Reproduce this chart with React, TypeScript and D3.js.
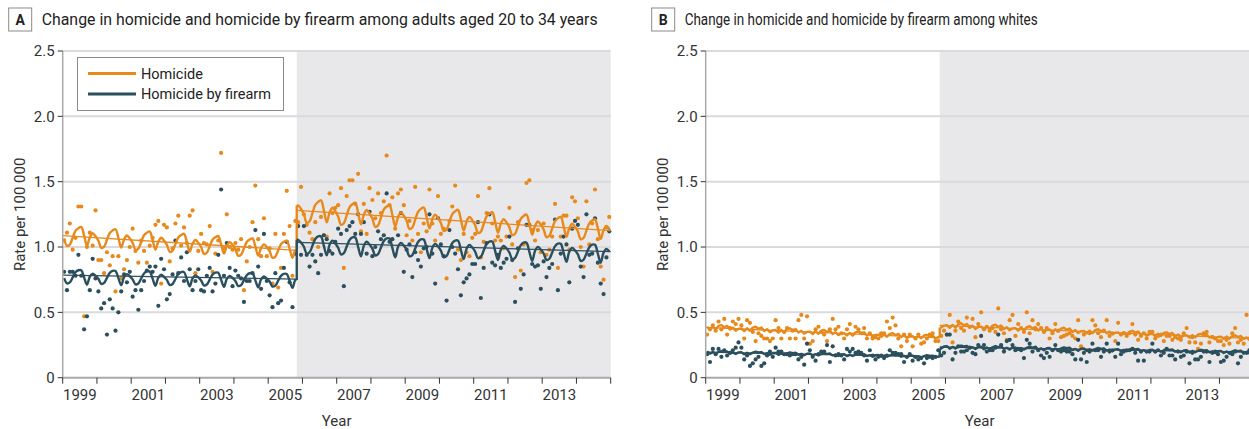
import * as d3 from 'd3';

const startYear = 1999;
const endYear = 2015;
const lawDate = 2005 + 10 / 12;
const yTicks = [0, 0.5, 1.0, 1.5, 2.0, 2.5];
const yTickLabels = ['0', '0.5', '1.0', '1.5', '2.0', '2.5'];
const yearTicks = d3.range(startYear, endYear + 1);
const yearLabels = [1999, 2001, 2003, 2005, 2007, 2009, 2011, 2013];
const seriesNames = ['Homicide', 'Homicide by firearm'];

// monthly rates, Jan 1999 .. Dec 2014
const homicideA = [
  1.05, 1.11, 1.18, 0.98, 1.07, 1.31, 1.31, 0.47, 1.0, 1.11, 1.01, 1.28,
  0.9, 0.9, 0.8, 0.96, 0.86, 0.93, 0.66, 0.93, 0.76, 0.83, 0.9, 1.0,
  1.14, 0.97, 0.88, 1.05, 0.97, 0.88, 1.01, 1.07, 1.17, 1.2, 0.72, 1.17,
  1.15, 0.89, 0.99, 1.18, 1.24, 1.01, 1.15, 1.03, 1.24, 1.28, 0.8, 0.97,
  1.1, 1.03, 1.02, 1.16, 0.81, 0.95, 1.05, 1.72, 0.99, 1.25, 1.0, 0.98,
  1.03, 0.98, 1.06, 0.67, 0.89, 1.0, 1.19, 1.47, 1.06, 0.93, 1.22, 0.93,
  0.99, 0.72, 1.1, 0.69, 0.84, 1.1, 1.43, 1.16, 0.78, 1.2, 1.19, 1.46,
  1.25, 1.17, 1.11, 1.06, 1.19, 1.0, 1.23, 1.09, 1.08, 1.41, 1.26, 1.3,
  1.32, 1.45, 0.84, 1.39, 1.51, 1.51, 1.33, 1.56, 1.12, 1.33, 1.1, 1.45,
  1.36, 1.22, 1.41, 1.26, 1.35, 1.7, 1.32, 1.38, 1.14, 1.41, 1.44, 1.32,
  1.09, 1.2, 1.05, 1.46, 1.1, 0.96, 1.18, 1.12, 1.44, 1.18, 1.05, 1.39,
  1.1, 1.14, 0.76, 1.2, 1.31, 1.47, 0.98, 0.9, 1.1, 0.96, 0.93, 1.07,
  1.1, 1.39, 0.92, 1.04, 1.26, 1.45, 1.18, 1.05, 1.08, 1.05, 0.99, 1.08,
  1.3, 1.02, 0.77, 1.19, 0.82, 1.02, 1.49, 1.51, 1.13, 1.05, 1.13, 0.96,
  1.18, 0.94, 0.98, 1.08, 1.33, 0.84, 1.08, 1.24, 1.24, 0.98, 1.38, 1.35,
  1.22, 1.0, 0.85, 1.35, 1.02, 1.18, 1.44, 1.06, 0.85, 0.75, 1.15, 1.23,
];
const firearmA = [
  0.81, 0.67, 0.81, 0.81, 0.78, 0.94, 0.78, 0.37, 0.47, 0.67, 0.91, 0.76,
  0.66, 0.53, 0.57, 0.33, 0.6, 0.53, 0.36, 0.5, 0.66, 0.79, 0.73, 0.81,
  0.62, 0.67, 0.52, 0.67, 0.74, 0.82, 0.85, 0.81, 0.85, 0.55, 0.91, 0.83,
  0.6, 0.64, 0.79, 1.05, 0.8, 0.92, 0.74, 0.96, 0.83, 0.67, 0.74, 0.83,
  0.67, 0.66, 0.78, 0.84, 0.66, 0.72, 0.94, 1.44, 0.78, 1.03, 0.84, 0.7,
  0.82, 0.78, 0.76, 0.58, 0.74, 0.74, 0.8, 1.13, 0.85, 0.68, 1.1, 0.74,
  0.63, 0.54, 0.8, 0.57, 0.59, 0.84, 1.04, 0.73, 0.54, 0.95, 1.16, 0.94,
  1.16, 0.94, 0.85, 0.94, 0.89, 0.8, 0.94, 1.09, 1.06, 0.97, 0.95, 1.04,
  1.14, 1.1, 0.7, 1.13, 1.16, 1.19, 1.1, 1.25, 1.1, 1.19, 0.95, 1.27,
  0.93, 1.0, 1.12, 1.06, 1.09, 1.41, 1.04, 1.06, 0.94, 1.09, 1.26, 0.81,
  0.98, 1.02, 0.77, 0.96, 0.9, 0.85, 0.99, 1.0, 1.25, 0.95, 0.72, 1.22,
  1.02, 0.93, 0.59, 1.13, 1.0, 0.95, 0.83, 0.63, 0.73, 0.76, 0.79, 0.87,
  0.87, 1.19, 0.61, 0.84, 1.03, 1.25, 0.88, 0.86, 0.94, 0.84, 0.88, 0.91,
  1.08, 0.9, 0.58, 0.99, 0.68, 0.79, 1.17, 1.17, 0.87, 0.85, 0.86, 0.68,
  0.89, 0.77, 0.84, 0.87, 1.21, 0.67, 0.95, 1.08, 1.02, 0.73, 1.14, 1.2,
  1.17, 0.85, 0.77, 1.25, 0.94, 0.95, 1.22, 0.88, 0.72, 0.64, 0.92, 1.12,
];
const homicideB = [
  0.33, 0.37, 0.4, 0.36, 0.43, 0.37, 0.45, 0.33, 0.38, 0.43, 0.41, 0.45,
  0.4, 0.3, 0.44, 0.42, 0.35, 0.28, 0.34, 0.32, 0.3, 0.3, 0.28, 0.3,
  0.44, 0.38, 0.3, 0.35, 0.38, 0.3, 0.36, 0.3, 0.44, 0.48, 0.3, 0.47,
  0.26, 0.28, 0.37, 0.39, 0.35, 0.33, 0.28, 0.37, 0.45, 0.37, 0.39, 0.34,
  0.3, 0.37, 0.41, 0.33, 0.39, 0.37, 0.34, 0.38, 0.3, 0.34, 0.3, 0.31,
  0.3, 0.34, 0.34, 0.43, 0.38, 0.46, 0.4, 0.3, 0.24, 0.33, 0.28, 0.33,
  0.24, 0.3, 0.33, 0.26, 0.27, 0.3, 0.33, 0.34, 0.28, 0.28, 0.32, 0.36,
  0.33, 0.48, 0.27, 0.36, 0.43, 0.38, 0.36, 0.46, 0.39, 0.45, 0.31, 0.41,
  0.5, 0.37, 0.39, 0.36, 0.38, 0.35, 0.53, 0.37, 0.34, 0.29, 0.44, 0.48,
  0.32, 0.41, 0.38, 0.35, 0.5, 0.34, 0.44, 0.37, 0.41, 0.38, 0.35, 0.38,
  0.3, 0.34, 0.41, 0.36, 0.31, 0.32, 0.33, 0.34, 0.32, 0.3, 0.44, 0.24,
  0.33, 0.21, 0.34, 0.44, 0.4, 0.34, 0.31, 0.36, 0.44, 0.32, 0.34, 0.28,
  0.42, 0.33, 0.34, 0.32, 0.34, 0.41, 0.33, 0.29, 0.32, 0.34, 0.3, 0.35,
  0.35, 0.3, 0.32, 0.33, 0.28, 0.32, 0.32, 0.29, 0.31, 0.3, 0.29, 0.34,
  0.38, 0.27, 0.31, 0.27, 0.22, 0.26, 0.34, 0.35, 0.27, 0.31, 0.3, 0.28,
  0.28, 0.25, 0.29, 0.26, 0.34, 0.38, 0.27, 0.29, 0.26, 0.48, 0.3, 0.28,
];
const firearmB = [
  0.18, 0.12, 0.22, 0.18, 0.22, 0.16, 0.21, 0.17, 0.19, 0.21, 0.23, 0.27,
  0.23, 0.14, 0.17, 0.09, 0.11, 0.14, 0.16, 0.09, 0.11, 0.17, 0.2, 0.16,
  0.23, 0.2, 0.2, 0.18, 0.18, 0.17, 0.18, 0.18, 0.14, 0.16, 0.1, 0.26,
  0.21, 0.16, 0.13, 0.18, 0.2, 0.2, 0.25, 0.12, 0.24, 0.17, 0.18, 0.17,
  0.14, 0.22, 0.2, 0.22, 0.19, 0.2, 0.19, 0.17, 0.13, 0.21, 0.17, 0.14,
  0.16, 0.17, 0.15, 0.17, 0.21, 0.19, 0.19, 0.18, 0.18, 0.12, 0.16, 0.18,
  0.13, 0.16, 0.14, 0.15, 0.11, 0.15, 0.16, 0.15, 0.16, 0.21, 0.17, 0.19,
  0.33, 0.33, 0.14, 0.19, 0.24, 0.2, 0.2, 0.21, 0.23, 0.19, 0.18, 0.25,
  0.32, 0.25, 0.2, 0.21, 0.21, 0.23, 0.33, 0.25, 0.2, 0.28, 0.29, 0.25,
  0.21, 0.22, 0.21, 0.15, 0.29, 0.26, 0.2, 0.23, 0.21, 0.17, 0.15, 0.19,
  0.16, 0.21, 0.25, 0.21, 0.2, 0.21, 0.2, 0.2, 0.18, 0.14, 0.29, 0.14,
  0.19, 0.12, 0.2, 0.26, 0.21, 0.21, 0.16, 0.2, 0.26, 0.2, 0.21, 0.16,
  0.26, 0.18, 0.2, 0.21, 0.21, 0.22, 0.19, 0.13, 0.2, 0.13, 0.2, 0.2,
  0.26, 0.2, 0.21, 0.17, 0.19, 0.22, 0.17, 0.17, 0.14, 0.2, 0.16, 0.17,
  0.2, 0.11, 0.19, 0.14, 0.14, 0.16, 0.2, 0.2, 0.12, 0.19, 0.2, 0.18,
  0.12, 0.13, 0.16, 0.19, 0.18, 0.2, 0.11, 0.16, 0.19, 0.19, 0.21, 0.2,
];

// fitted segmented trend: [pre start, pre end, post start, post end]
const homicideTrendA = [1.087, 0.975, 1.28, 1.125];
const firearmTrendA = [0.785, 0.755, 1.035, 0.965];
const homicideTrendB = [0.385, 0.305, 0.4, 0.3];
const firearmTrendB = [0.195, 0.16, 0.235, 0.195];

// fitted seasonal effect by calendar month (relative), Jan..Dec
const homicideSeasonA = [-0.02, -0.07, -0.06, -0.01, 0.04, 0.06, 0.07, 0.01, -0.06, 0.0, 0.03, 0.01];
const firearmSeasonA = [-0.03, -0.08, -0.07, -0.02, 0.03, 0.05, 0.05, -0.02, -0.09, -0.01, 0.02, 0.0];
const homicideSeasonB = [0.01, -0.04, 0.02, -0.03, 0.04, 0.06, 0.02, 0.05, -0.02, 0.02, -0.04, 0.0];
const firearmSeasonB = [0.03, -0.05, 0.01, -0.04, 0.02, 0.06, 0.03, 0.05, -0.03, 0.01, -0.05, 0.02];

const ORANGE = '#e8891c';
const TEAL = '#2b4f5d';
const FONT = "Roboto, 'Liberation Sans', Arial, sans-serif";
const plotTop = 51;
const plotBottom = 377.7;
const plotWidth = 548;

type PanelProps = {
  left: number;
  letter: string;
  title: string;
  titleWidth: number;
  homicide: number[];
  firearm: number[];
  homicideTrend: number[];
  firearmTrend: number[];
  homicideSeason: number[];
  firearmSeason: number[];
  smooth: boolean;
  legend: boolean;
};

function Panel(p: PanelProps) {
  const x = d3.scaleLinear().domain([startYear, endYear]).range([p.left, p.left + plotWidth]);
  const y = d3.scaleLinear().domain([0, 2.5]).range([plotBottom, plotTop]);
  const monthDate = (i: number) => startYear + (i + 0.5) / 12;

  const line = d3.line<[number, number]>()
    .x(d => x(d[0]))
    .y(d => y(d[1]))
    .curve(p.smooth ? d3.curveCatmullRom : d3.curveLinear);
  const straight = d3.line<[number, number]>().x(d => x(d[0])).y(d => y(d[1]));

  const fitted = (vals: number[], trend: number[], season: number[], color: string) => {
    const pre = d3.scaleLinear().domain([startYear, lawDate]).range([trend[0], trend[1]]);
    const post = d3.scaleLinear().domain([lawDate, endYear]).range([trend[2], trend[3]]);
    const prePts: [number, number][] = [];
    const postPts: [number, number][] = [];
    vals.forEach((_, i) => {
      const t = monthDate(i);
      const s = 1 + season[i % 12];
      if (t < lawDate) prePts.push([t, pre(t) * s]);
      else postPts.push([t, post(t) * s]);
    });
    const lastPre = prePts[prePts.length - 1][1];
    const firstPost = postPts[0][1];
    prePts.push([lawDate, lastPre]);
    postPts.unshift([lawDate, firstPost]);
    return (
      <g fill="none" stroke={color}>
        <path d={straight([[startYear, trend[0]], [lawDate, trend[1]]]) || ''} strokeWidth={1.3} />
        <path d={straight([[lawDate, trend[2]], [endYear, trend[3]]]) || ''} strokeWidth={1.3} />
        <path d={line(prePts) || ''} strokeWidth={2.4} strokeLinejoin="round" />
        <path d={line(postPts) || ''} strokeWidth={2.4} strokeLinejoin="round" />
        <path d={straight([[lawDate, lastPre], [lawDate, firstPost]]) || ''} strokeWidth={2.4} />
      </g>
    );
  };

  const axisColor = '#a9a9a9';
  const textColor = '#333';

  return (
    <g fontFamily={FONT}>
      <rect x={p.left - 54} y={8} width={23} height={23} fill="#fff" stroke="#8a8a8a" strokeWidth={1} />
      <text x={p.left - 42.5} y={25} textAnchor="middle" fontSize={14} fontWeight="bold" fill="#222">{p.letter}</text>
      <text x={p.left - 21} y={25} fontSize={16.5} fill="#222" textLength={p.titleWidth} lengthAdjust="spacingAndGlyphs">{p.title}</text>

      <rect x={x(lawDate)} y={plotTop} width={x(endYear) - x(lawDate)} height={plotBottom - plotTop} fill="#e8e8eb" />
      {yTicks.filter(t => t > 0).map(t => (
        <line key={t} x1={x(startYear)} x2={x(endYear)} y1={y(t)} y2={y(t)} stroke="#dadadc" strokeWidth={2} />
      ))}

      {p.homicide.map((v, i) => (
        <circle key={'h' + i} cx={x(monthDate(i))} cy={y(v)} r={2.1} fill={ORANGE} />
      ))}
      {p.firearm.map((v, i) => (
        <circle key={'f' + i} cx={x(monthDate(i))} cy={y(v)} r={2.1} fill={TEAL} />
      ))}

      {fitted(p.homicide, p.homicideTrend, p.homicideSeason, ORANGE)}
      {fitted(p.firearm, p.firearmTrend, p.firearmSeason, TEAL)}

      <line x1={x(startYear)} x2={x(startYear)} y1={plotTop} y2={plotBottom} stroke={axisColor} strokeWidth={1.5} />
      <line x1={x(startYear)} x2={x(endYear)} y1={plotBottom} y2={plotBottom} stroke={axisColor} strokeWidth={2} />
      {yTicks.map((t, i) => (
        <g key={t}>
          <line x1={x(startYear) - 5} x2={x(startYear)} y1={y(t)} y2={y(t)} stroke={textColor} strokeWidth={1} />
          <text x={x(startYear) - 8} y={y(t)} dy="0.35em" textAnchor="end" fontSize={15} fill={textColor}>{yTickLabels[i]}</text>
        </g>
      ))}
      {yearTicks.map(t => (
        <line key={t} x1={x(t)} x2={x(t)} y1={plotBottom} y2={plotBottom + 6} stroke={textColor} strokeWidth={1} />
      ))}
      {yearLabels.map(t => (
        <text key={t} x={x(t + 0.5)} y={400} textAnchor="middle" fontSize={15} fill={textColor}>{t}</text>
      ))}
      <text x={x((startYear + endYear) / 2)} y={426} textAnchor="middle" fontSize={15} fill={textColor}>Year</text>
      <text transform={`translate(${p.left - 38},${(plotTop + plotBottom) / 2}) rotate(-90)`} textAnchor="middle" fontSize={15} fill={textColor}>Rate per 100 000</text>

      {p.legend && (
        <g>
          <rect x={77.5} y={57.5} width={206} height={53} fill="#fff" stroke="#8a8a8a" strokeWidth={1} />
          {seriesNames.map((name, i) => (
            <g key={name}>
              <line x1={88} x2={136} y1={73.5 + i * 20.5} y2={73.5 + i * 20.5} stroke={i === 0 ? ORANGE : TEAL} strokeWidth={3} />
              <text x={141} y={73.5 + i * 20.5} dy="0.35em" fontSize={14.5} fill="#222">{name}</text>
            </g>
          ))}
        </g>
      )}
    </g>
  );
}

export default function App() {
  return (
    <svg width={1249} height={429} style={{ position: 'absolute', left: 0, top: 0, background: '#fff' }}>
      <Panel
        left={62.7}
        letter="A"
        title="Change in homicide and homicide by firearm among adults aged 20 to 34 years"
        titleWidth={556}
        homicide={homicideA}
        firearm={firearmA}
        homicideTrend={homicideTrendA}
        firearmTrend={firearmTrendA}
        homicideSeason={homicideSeasonA}
        firearmSeason={firearmSeasonA}
        smooth={true}
        legend={true}
      />
      <Panel
        left={705.7}
        letter="B"
        title="Change in homicide and homicide by firearm among whites"
        titleWidth={353}
        homicide={homicideB}
        firearm={firearmB}
        homicideTrend={homicideTrendB}
        firearmTrend={firearmTrendB}
        homicideSeason={homicideSeasonB}
        firearmSeason={firearmSeasonB}
        smooth={false}
        legend={false}
      />
    </svg>
  );
}
